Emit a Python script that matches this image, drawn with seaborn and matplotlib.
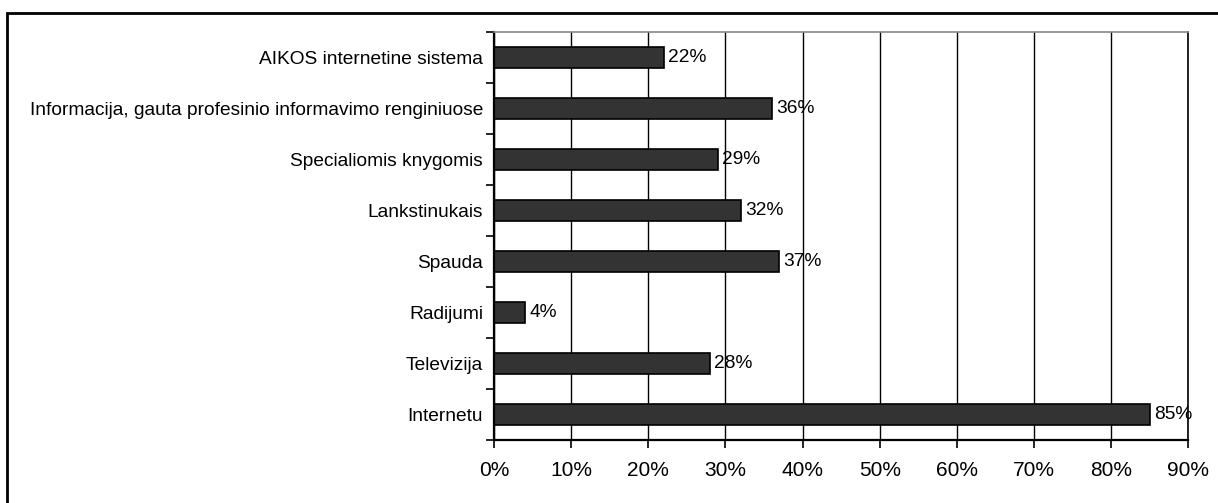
import numpy as np
import pandas as pd
import seaborn as sns
import matplotlib.pyplot as plt
from matplotlib.patches import Rectangle
from matplotlib.ticker import FixedLocator, PercentFormatter

sources = ["AIKOS internetine sistema",
           "Informacija, gauta profesinio informavimo renginiuose",
           "Specialiomis knygomis",
           "Lankstinukais",
           "Spauda",
           "Radijumi",
           "Televizija",
           "Internetu"]
shares = [22, 36, 29, 32, 37, 4, 28, 85]
x_ticks = [0, 10, 20, 30, 40, 50, 60, 70, 80, 90]

sns.set_style("white")
plt.rcParams['font.family'] = ['Liberation Sans', 'DejaVu Sans']
plt.rcParams['text.color'] = 'black'
plt.rcParams['xtick.color'] = 'black'
plt.rcParams['ytick.color'] = 'black'

df = pd.DataFrame({"source": sources, "share": shares})

fig = plt.figure(figsize=(12.18, 5.03), dpi=100)
ax = fig.add_axes([0.4056, 0.1252, 0.5700, 0.8112])

sns.barplot(data=df, x="share", y="source", orient="h", color="#333333",
            edgecolor="black", linewidth=1.2, width=0.42, saturation=1, ax=ax)

ax.set_xlim(0, 90)
ax.set_ylim(len(sources) - 0.5, -0.5)
ax.xaxis.set_major_locator(FixedLocator(x_ticks))
ax.xaxis.set_major_formatter(PercentFormatter(decimals=0))
ax.grid(axis="x", color="black", linewidth=1.0)
ax.set_axisbelow(True)

# category boundary ticks on the left
ax.yaxis.set_minor_locator(FixedLocator(np.arange(-0.5, len(sources), 1.0)))
ax.tick_params(axis="y", which="major", length=0, pad=8, labelsize=13.8)
ax.tick_params(axis="y", which="minor", length=6, width=1.2, color="black", left=True, direction="out")
ax.tick_params(axis="x", which="major", length=6, width=1.2, color="black", bottom=True,
               direction="out", labelsize=15, pad=9)

for side in ["left", "bottom"]:
    ax.spines[side].set_color("black")
    ax.spines[side].set_linewidth(1.6)
ax.spines["top"].set_color("#888888")
ax.spines["top"].set_linewidth(1.2)
ax.spines["right"].set_color("black")
ax.spines["right"].set_linewidth(1.2)

ax.set_xlabel("")
ax.set_ylabel("")

for container in ax.containers:
    ax.bar_label(container, labels=[f"{v}%" for v in shares], padding=3, fontsize=13.8)

# outer frame around the whole chart
fig.patches.append(Rectangle((7 / 1218, -0.05), 1.1, (503 - 13) / 503 + 0.05,
                             transform=fig.transFigure, fill=False,
                             edgecolor="black", linewidth=2))

plt.savefig("out.png", dpi=100)
